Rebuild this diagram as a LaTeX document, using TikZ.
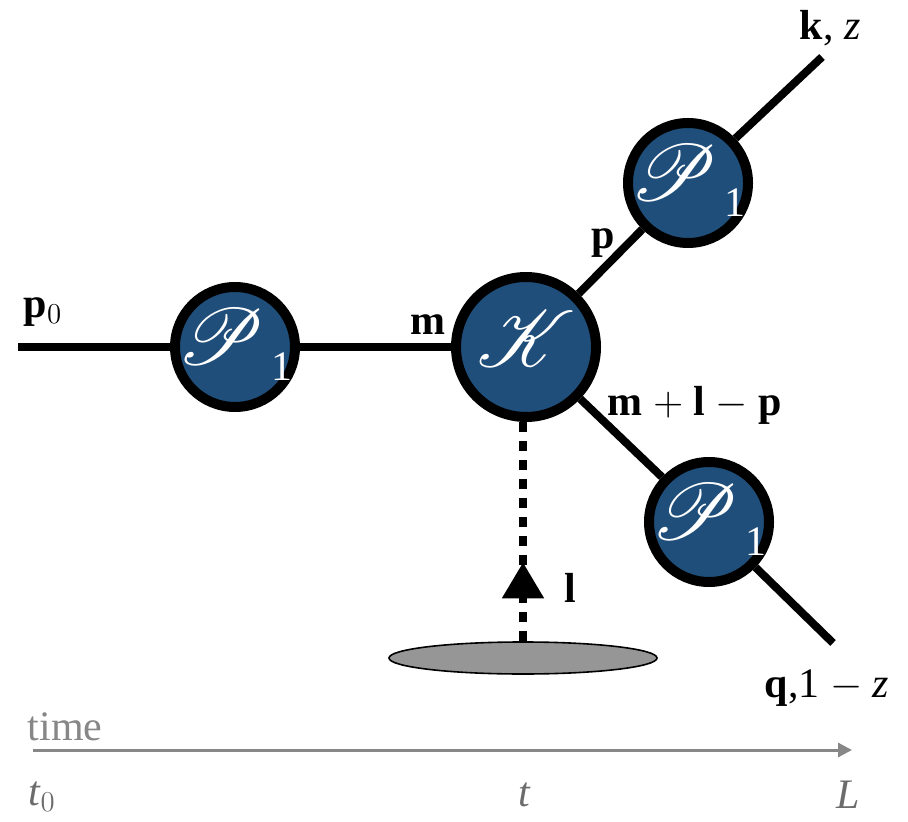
\documentclass[tikz,border=0pt]{standalone}
\usepackage{fontspec}
\setmainfont{Liberation Serif}
\usepackage{mathrsfs}
\usetikzlibrary{shapes.geometric,arrows.meta,decorations.markings}
\definecolor{propblue}{RGB}{31,78,122}
\definecolor{timegray}{RGB}{135,135,135}
\definecolor{blobgray}{RGB}{150,150,150}
\newcommand{\propP}{\smash{\makebox[0pt]{\raisebox{-9pt}{\scalebox{1.6}{$\mathscr{P}$}\raisebox{-8pt}{\fontsize{21}{21}\selectfont\,1}}}}}
\newcommand{\kernK}{\smash{\makebox[0pt]{\raisebox{-10pt}{\scalebox{1.6}{$\mathscr{K}$}}}}}

\begin{document}
\begin{tikzpicture}[
    x=0.5pt, y=-0.5pt,
    every node/.style={font=\fontsize{21}{25}\selectfont},
    blob/.style={circle, draw=black, line width=5pt, fill=propblue, text=white, inner sep=0pt, font=\fontsize{26}{30}\selectfont},
    prop/.style={blob, minimum size=60pt},
    kern/.style={blob, minimum size=70pt},
    wire/.style={line width=4pt},
    gluon/.style={line width=4pt, dash pattern=on 5pt off 4.5pt,
        postaction={decorate, decoration={markings,
            mark=at position 0.36 with {\arrow{Triangle[length=18pt,width=20pt]}}}}},
    medium/.style={ellipse, draw=black, line width=0.8pt, fill=blobgray, inner sep=0pt, minimum width=134pt, minimum height=16pt},
    timeaxis/.style={timegray, line width=1.5pt, -{Triangle[length=7pt,width=7pt]}}
]
\useasboundingbox (0,0) rectangle (908,822);

% vertices
\node[prop] (p1in) at (235,347) {\propP};
\node[kern] (kern) at (526,347) {\kernK};
\node[prop] (p1k) at (688,183) {\propP};
\node[prop] (p1q) at (709,522) {\propP};
\node[medium] (med) at (523,658) {};

\coordinate (start) at (18,347);
\coordinate (kend) at (822,57);
\coordinate (qend) at (833,643);

% lines
\draw[wire] (start) -- (p1in);
\draw[wire] (p1in) -- (kern);
\draw[wire] (kern) -- (p1k);
\draw[wire] (p1k) -- (kend);
\draw[wire] (kern) -- (p1q);
\draw[wire] (p1q) -- (qend);
\draw[gluon] (med.north -| 523,0) -- (kern.south -| 523,0);

% momentum labels
\node (lp0) at (43,312) {\textbf{p}$_0$};
\node (lm) at (428,325) {\textbf{m}};
\node (lp) at (603,243) {\textbf{p}};
\node (lmlp) at (695,405) {\textbf{m} $+$ \textbf{l} $-$ \textbf{p}};
\node (ll) at (570,588) {\textbf{l}};
\node (lk) at (830,28) {\textbf{k}, \textit{z}};
\node (lq) at (827,688) {\textbf{q},1 $-$ \textit{z}};

% time axis
\coordinate (t0) at (33,750);
\coordinate (tL) at (852,750);
\draw[timeaxis] (t0) -- (tL);
\node[text=timegray] (ltime) at (65,727) {time};
\node[text=timegray!80!black] (lt0) at (42,797) {\textit{t}$_0$};
\node[text=timegray!80!black] (lt) at (525,795) {\textit{t}};
\node[text=timegray!80!black] (lL) at (848,795) {\textit{L}};
\end{tikzpicture}
\end{document}
